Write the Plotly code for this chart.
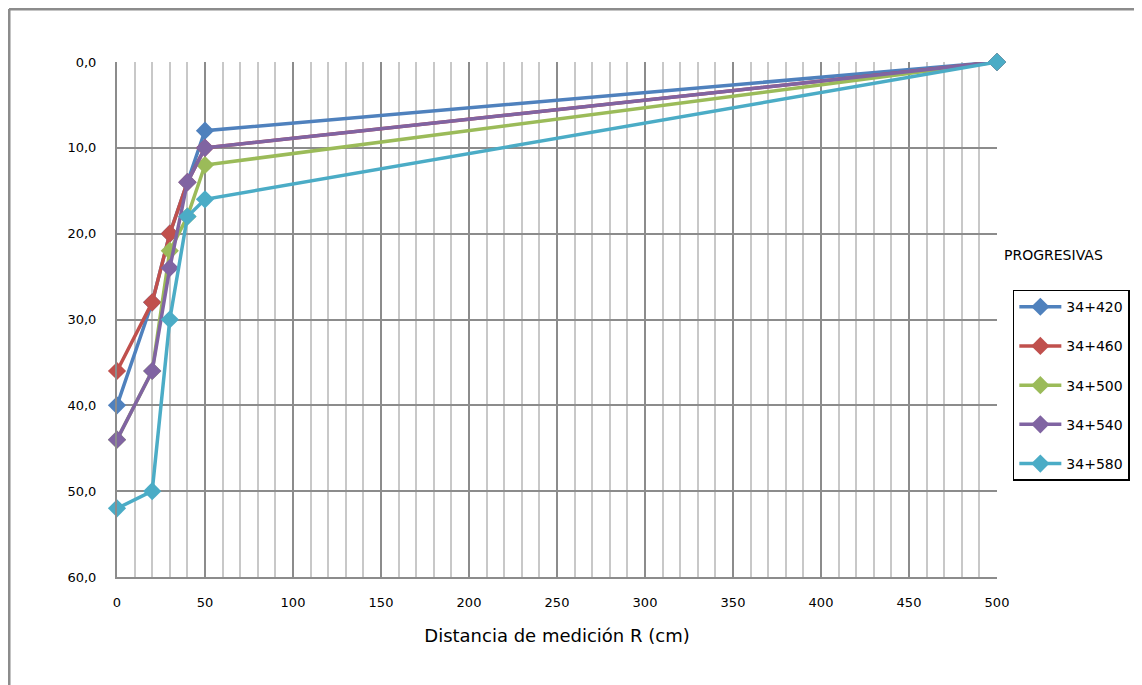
import plotly.graph_objects as go

distancias = [0, 20, 30, 40, 50, 500]
series_names = ["34+420", "34+460", "34+500", "34+540", "34+580"]
s_420 = [40, 28, 20, 14, 8, 0]
s_460 = [36, 28, 20, 14, 10, 0]
s_500 = [44, 36, 22, 18, 12, 0]
s_540 = [44, 36, 24, 14, 10, 0]
s_580 = [52, 50, 30, 18, 16, 0]
colors = ["#4F81BD", "#C0504D", "#9BBB59", "#8064A2", "#4BACC6"]
y_ticks = [0, 10, 20, 30, 40, 50, 60]
x_ticks = [0, 50, 100, 150, 200, 250, 300, 350, 400, 450, 500]

FONT = "DejaVu Sans"
fig = go.Figure()
for name, vals, col in zip(series_names, [s_420, s_460, s_500, s_540, s_580], colors):
    fig.add_trace(go.Scatter(
        x=distancias, y=vals, name=name, mode="lines+markers",
        line=dict(color=col, width=3.5),
        marker=dict(symbol="diamond", size=14, color=col),
        legendgroup=name, cliponaxis=False,
    ))

fig.update_layout(
    width=1134, height=677,
    margin=dict(l=109, r=145, t=54, b=108),
    plot_bgcolor="white", paper_bgcolor="white",
    separators=", ",
    font=dict(family=FONT, size=13, color="#000000"),
    showlegend=True,
    legend=dict(
        x=1.018, y=0.558, xanchor="left", yanchor="top",
        bordercolor="#000000", borderwidth=1.5,
        font=dict(size=14, family=FONT),
        tracegroupgap=18, itemwidth=42,
    ),
    xaxis=dict(
        range=[0, 500], tickvals=x_ticks, ticks="",
        showgrid=True, gridcolor="#8c8c8c", gridwidth=1.5,
        minor=dict(dtick=10, showgrid=True, gridcolor="#c8c8c8", gridwidth=1.5),
        showline=True, linecolor="#8c8c8c", linewidth=2,
        zeroline=False, ticklabelstandoff=12,
        tickfont=dict(size=13),
        title=dict(text="Distancia de medición R (cm)", font=dict(size=18), standoff=21),
    ),
    yaxis=dict(
        range=[60, 0], tickvals=y_ticks, tickformat=".1f", ticks="",
        showgrid=True, gridcolor="#8c8c8c", gridwidth=1.5,
        showline=True, linecolor="#8c8c8c", linewidth=2,
        zeroline=False, ticklabelstandoff=16,
        tickfont=dict(size=13),
    ),
    annotations=[dict(
        text="PROGRESIVAS", xref="paper", yref="paper",
        x=1.006, y=0.625, xanchor="left", yanchor="middle",
        showarrow=False, font=dict(size=14, family=FONT),
    )],
    shapes=[
        dict(type="line", xref="paper", yref="paper",
             x0=-0.1227, x1=1.2, y0=1.1029, y1=1.1029,
             line=dict(color="#8c8c8c", width=3)),
        dict(type="line", xref="paper", yref="paper",
             x0=-0.1227, x1=-0.1227, y0=1.1029, y1=-0.25,
             line=dict(color="#8c8c8c", width=3)),
    ],
)

fig.write_html("out.html")
